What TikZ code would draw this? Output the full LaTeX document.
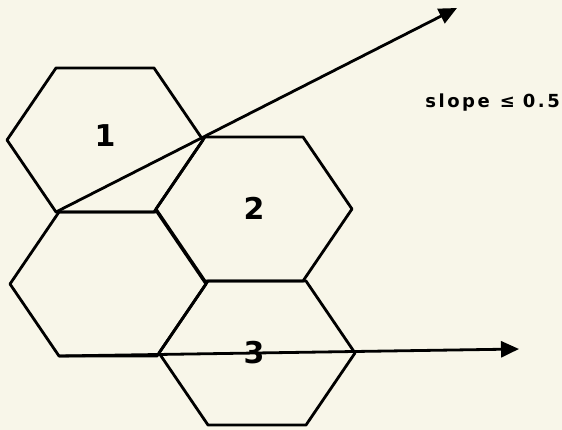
\documentclass[tikz,border=0pt]{standalone}
\usepackage{fontspec}
\setsansfont{DejaVu Sans}
\usetikzlibrary{arrows.meta}
\definecolor{paper}{RGB}{248,246,233}
\tikzset{
  hexcell/.style={line width=2.8pt,line join=round},
  ray/.style={line width=2.8pt,-{Triangle[length=18pt,width=16pt]}},
  cellnum/.style={font=\sffamily\bfseries\fontsize{30}{30}\selectfont},
  note/.style={font=\sffamily\bfseries\fontsize{18}{18}\selectfont},
}
\newcommand{\trk}{\kern2.5pt}
% 六角形のセル: #1 名前, #2 中心 x, #3 中心 y
\newcommand{\hexcellat}[3]{%
  \coordinate (#1-l) at ({#2-98},{#3});
  \coordinate (#1-tl) at ({#2-49},{#3-72});
  \coordinate (#1-tr) at ({#2+49},{#3-72});
  \coordinate (#1-r) at ({#2+98},{#3});
  \coordinate (#1-br) at ({#2+49},{#3+72});
  \coordinate (#1-bl) at ({#2-49},{#3+72});
  \draw[hexcell] (#1-l) -- (#1-tl) -- (#1-tr) -- (#1-r) -- (#1-br) -- (#1-bl) -- cycle;
}
\begin{document}
\begin{tikzpicture}[x=1pt,y=-1pt]
  \fill[paper] (0,0) rectangle (562,430); % 背景
  \hexcellat{a}{105}{140} % セル 1
  \hexcellat{b}{254}{209} % セル 2
  \hexcellat{c}{108}{284} % 左下のセル
  \hexcellat{d}{257}{353} % セル 3
  \node[cellnum] (n1) at (105,136) {1}; % セル 1 の番号
  \node[cellnum] (n2) at (254,208) {2}; % セル 2 の番号
  \node[cellnum] (n3) at (254,353) {3}; % セル 3 の番号
  \coordinate (tip1) at (457,8); % 斜めの矢印の先
  \coordinate (tip2) at (519,349); % 水平の矢印の先
  \draw[ray] (a-bl) -- (tip1); % 傾き 0.5 以下の直線
  \draw[ray] (c-bl) -- (tip2); % 水平な直線
  \node[note,anchor=base east,inner sep=0pt] (slope) at (560,108) {s\trk l\trk o\trk p\trk e\kern10pt ≤\kern8pt 0\trk .\trk 5}; % 傾きの条件
\end{tikzpicture}
\end{document}
